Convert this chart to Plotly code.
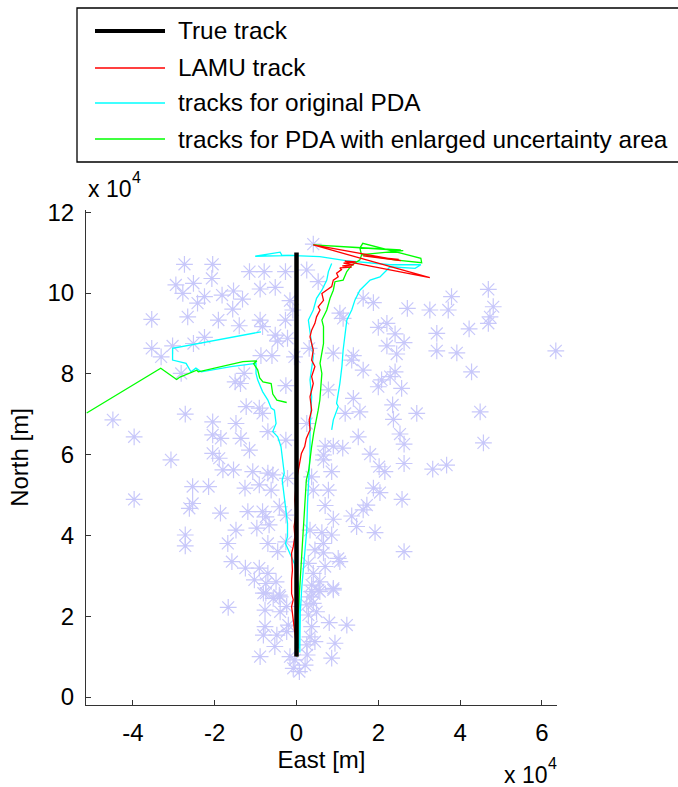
import plotly.graph_objects as go

# ---------------- data (units of 10^4 m) ----------------
clutter_east = [
    -2.74, -2.05, -2.07, -1.15, -0.79, -0.27, -2.95, -2.52, -2.78, -2.25,
    -2.42, -1.82, -1.54, -1.32, -1.56, -0.89, -0.52, -0.16, -0.09, -3.54,
    -2.66, -1.91, -1.40, -0.89, -0.83, -0.27, -2.25, -2.52, -3.54, -3.31,
    -3.03, -0.52, -0.46, -0.22, -0.87, -0.60, -0.05, -2.82, -1.28, -1.50,
    -1.37, -0.26, -1.23, -0.91,
    0.41, 0.25, 0.53, 1.63, 1.88, 3.79, 4.69, 4.81, 4.73, 4.69,
    2.71, 3.26, 3.71, 1.06, 1.14, 2.00, 2.21, 2.41, 3.43, 4.22,
    2.21, 2.63, 3.43, 3.92, 2.45, 1.39, 1.35, 0.90, 0.31, 1.63,
    2.41, 2.29, 2.08, 2.00, 2.57, 4.28, 0.78, 1.39, 2.35, 6.34,
    -4.49, -2.72, -2.05, -1.48, -0.83, -0.70, -3.97, -2.05, -1.85, -1.36,
    -0.26, -1.15, -2.05, -1.89, -3.07, -1.80, -1.54, -1.07, -0.70, -0.58,
    -0.22, -2.54, -2.15, -1.26, -0.91, -0.62, -3.97, -2.54, -2.62, -1.86,
    -1.19, -0.83, -0.75, -0.42, -0.26, -0.97, -0.67, -1.48, -2.72, -2.72,
    -1.68, -0.70, -0.46, -0.26, -1.58, -1.25, -0.91, -0.70, -1.03, -0.75,
    -0.50, -0.75, -0.42,
    1.19, 1.55, 2.37, 2.94, 4.49, 0.25, 1.51, 2.53, 2.63, 4.57,
    0.70, 0.90, 1.13, 0.66, 1.80, 0.66, 2.63, 2.02, 2.16, 3.33,
    3.67, 0.86, 0.37, 0.41, 0.78, 1.88, 2.04, 2.58, 1.72, 1.63,
    0.70, 1.35, 0.90, 1.47, 1.92, 0.33, 0.62, 0.86, 0.66, 0.45,
    0.66, 1.02, 1.06, 2.63, 0.29, 0.70, 0.41, 0.57, 0.37, 0.90,
    0.37, 0.53,
    -1.67, -0.81, -0.57, -0.40, -0.77, -0.40, -0.24, 0.33, 0.57, 0.90,
    0.25, 0.41, 0.49, 0.29, 0.80, 1.23, -0.77, -0.20, -0.81, -0.48,
    -0.24, 0.37, 0.33, 0.45, 0.25, 0.94, -0.53, -0.89, -0.16, -0.04,
    0.26, 0.86, 0.21, -0.08, 0.07,
    -5.15,
]
clutter_north = [
    10.71, 10.71, 10.36, 10.53, 10.53, 10.53, 10.20, 10.24, 9.99, 9.91,
    9.75, 9.95, 10.05, 9.85, 9.60, 10.10, 10.14, 9.81, 9.58, 9.35,
    9.41, 9.33, 9.19, 9.33, 9.17, 9.33, 8.90, 8.75, 8.63, 8.42,
    8.69, 8.96, 8.81, 8.88, 8.45, 8.45, 8.42, 8.01, 8.01, 7.80,
    7.76, 7.71, 7.19, 7.15,
    11.21, 10.57, 10.28, 9.87, 9.76, 9.91, 10.09, 9.66, 9.41, 9.25,
    9.62, 9.58, 9.58, 9.50, 9.37, 9.15, 9.25, 8.99, 9.00, 9.11,
    8.69, 8.77, 8.57, 8.52, 8.49, 8.45, 8.34, 8.51, 8.63, 8.09,
    8.05, 7.93, 7.85, 7.68, 7.64, 8.05, 7.60, 7.39, 7.23, 8.57,
    6.86, 7.00, 6.81, 6.77, 7.02, 6.57, 6.44, 6.49, 6.40, 6.40,
    6.36, 6.11, 6.03, 5.91, 5.87, 5.62, 5.62, 5.58, 5.54, 5.50,
    5.41, 5.21, 5.21, 5.17, 5.25, 5.12, 4.89, 4.79, 4.67, 4.55,
    4.59, 4.59, 4.46, 4.71, 4.50, 4.18, 4.26, 4.13, 4.01, 3.74,
    3.80, 3.80, 3.60, 3.84, 3.35, 3.19, 3.19, 3.06, 2.90, 2.81,
    2.85, 2.57, 2.52,
    7.02, 7.06, 6.87, 7.02, 7.06, 6.77, 6.44, 6.51, 6.26, 6.29,
    6.21, 6.21, 6.16, 5.99, 6.01, 5.87, 5.78, 5.70, 5.58, 5.64,
    5.74, 5.58, 5.45, 5.12, 5.12, 5.17, 5.06, 4.89, 4.75, 4.63,
    4.74, 4.48, 4.40, 4.22, 4.07, 4.13, 4.07, 4.01, 3.80, 3.64,
    3.57, 3.43, 3.35, 3.60, 3.31, 3.23, 3.06, 2.85, 2.77, 2.69,
    2.61, 2.65,
    2.22, 2.57, 2.44, 2.48, 2.15, 2.11, 2.24, 2.48, 2.61, 2.65,
    2.28, 2.32, 2.11, 2.03, 1.84, 1.78, 1.74, 1.78, 1.53, 1.53,
    1.62, 1.74, 1.49, 1.37, 1.29, 1.33, 1.25, 1.00, 1.00, 0.92,
    1.04, 0.96, 0.79, 0.71, 0.63,
    7.03,
]

true_east = [0.0, 0.0]
true_north = [1.0, 11.0]

lamu_east = [0.00, -0.01, -0.04, -0.08, -0.12, -0.08, -0.12, -0.12, -0.10, -0.12,
             -0.08, -0.04, -0.06, -0.01, -0.04, 0.00, 0.04, 0.08, 0.12, 0.20,
             0.24, 0.33, 0.31, 0.37, 0.33, 0.41, 0.37, 0.45, 0.37, 0.41,
             0.33, 0.37, 0.45, 0.49, 0.575, 0.53, 0.66, 0.62, 0.74, 0.86,
             0.90, 1.02, 0.98, 1.10, 1.06, 1.35, 1.12, 1.40, 1.15, 1.45,
             1.18, 3.26, 0.41, 2.55, 1.63, 2.50]
lamu_north = [1.00, 1.33, 1.58, 1.91, 2.24, 2.41, 2.56, 2.90, 3.14, 3.56,
              3.72, 3.97, 4.22, 4.55, 4.88, 5.37, 5.62, 5.78, 6.03, 6.20,
              6.40, 6.61, 6.86, 7.10, 7.43, 7.76, 7.93, 8.18, 8.34, 8.59,
              8.92, 9.08, 9.25, 9.41, 9.58, 9.66, 9.82, 9.99, 10.07, 10.16,
              10.32, 10.40, 10.49, 10.58, 10.62, 10.64, 10.67, 10.70, 10.74, 10.77,
              10.79, 10.38, 11.19, 10.80, 10.92, 10.83]

# tracks for original PDA (cyan)
pda1_east = [0.06, 0.08, 0.06, -0.05, -0.27, -0.22, -0.22, -0.26, -0.30, -0.35,
             -0.30, -0.34, -0.38, -0.46, -0.58, -0.50, -0.54, -0.62, -0.70, -0.83,
             -0.95, -0.99, -0.99, -1.60, -2.33, -2.46, -2.58, -2.70, -3.03, -3.03,
             -0.87]
pda1_north = [1.20, 2.00, 2.70, 3.30, 3.80, 3.97, 4.30, 4.63, 4.96, 5.37,
              5.54, 5.95, 6.20, 6.44, 6.57, 6.77, 7.10, 7.15, 7.35, 7.56,
              7.85, 8.01, 8.26, 8.18, 8.05, 8.14, 8.05, 8.26, 8.34, 8.63,
              9.04]
pda2_east = [0.08, 0.09, 0.13, 0.18, 0.25, 0.27, 0.29, 0.33, 0.33, 0.37,
             0.33, 0.41, 0.37, 0.29, 0.41, 0.49, 0.62, 0.74, 0.78, 0.86]
pda2_north = [1.10, 2.07, 2.73, 3.40, 4.13, 4.80, 5.37, 6.03, 6.61, 7.43,
              7.85, 8.42, 8.75, 9.33, 9.58, 9.87, 10.07, 10.32, 10.53, 10.73]
pda3_east = [0.86, 0.90, 1.02, 0.98, 1.06, 1.11, 1.14, 1.19, 1.23, 1.35,
             1.43, 1.55, 1.80, 2.04, 2.29, 2.90, 3.04, 2.29, 1.20, 0.57,
             -0.36, -0.40, -1.01, 0.00]
pda3_north = [6.61, 6.86, 7.19, 7.27, 7.76, 8.18, 8.59, 9.08, 9.33, 9.58,
              9.83, 10.07, 10.32, 10.40, 10.65, 10.61, 10.70, 10.70, 10.80, 10.90,
              10.94, 11.01, 10.91, 10.93]

# tracks for PDA with enlarged uncertainty area (green)
epda1_east = [-5.13, -3.32, -2.93, -2.85, -2.44, -2.40, -1.31, -0.97, -1.05, -0.95,
              -0.90, -0.82, -0.62, -0.58, -0.48, -0.24]
epda1_north = [7.03, 8.14, 7.86, 7.92, 8.09, 8.05, 8.30, 8.32, 8.25, 8.10,
               7.90, 7.80, 7.76, 7.50, 7.35, 7.29]
epda2_east = [0.02, 0.04, 0.07, 0.09, 0.12, 0.16, 0.18, 0.20, 0.22, 0.24,
              0.30, 0.33, 0.37, 0.42, 0.49, 0.53, 0.57, 0.59, 0.62, 0.575,
              0.62, 0.66, 0.66, 0.62, 0.74, 0.82, 0.90, 0.94, 1.14, 1.23,
              1.35, 1.55, 1.59, 1.55, 1.62, 3.04, 3.06, 2.40, 1.60, 2.61,
              0.41, 2.55]
epda2_north = [1.00, 2.07, 2.56, 2.90, 3.39, 3.80, 4.22, 4.55, 4.96, 5.37,
               5.62, 5.95, 6.20, 6.53, 6.86, 7.10, 7.35, 7.68, 8.01, 8.26,
               8.51, 8.75, 9.17, 9.33, 9.58, 9.87, 10.07, 10.28, 10.32, 10.53,
               10.69, 10.82, 10.94, 11.11, 11.23, 10.86, 10.75, 10.82, 10.95, 11.05,
               11.19, 11.07]

legend_labels = ["True track", "LAMU track", "tracks for original PDA",
                 "tracks for PDA with enlarged uncertainty area"]
x_ticks = [-4, -2, 0, 2, 4, 6]
y_ticks = [0, 2, 4, 6, 8, 10, 12]

# ---------------- figure ----------------
W, H = 678, 787
L, R, T, B = 86, 557, 210, 705   # plot area in pixels

RED, CYAN, GREEN, CLUTTER = "#ff0000", "#00ffff", "#00ff00", "#c8c8fa"

fig = go.Figure()
fig.add_trace(go.Scatter(
    x=clutter_east, y=clutter_north, mode="markers", cliponaxis=False,
    marker=dict(symbol="asterisk-open", size=14, color=CLUTTER,
                line=dict(color=CLUTTER, width=1.2)),
    showlegend=False, hoverinfo="skip"))

for ex, ny in [(pda1_east, pda1_north), (pda2_east, pda2_north), (pda3_east, pda3_north)]:
    fig.add_trace(go.Scatter(x=ex, y=ny, mode="lines", line=dict(color=CYAN, width=1.3),
                             showlegend=False, hoverinfo="skip"))
for ex, ny in [(epda1_east, epda1_north), (epda2_east, epda2_north)]:
    fig.add_trace(go.Scatter(x=ex, y=ny, mode="lines", line=dict(color=GREEN, width=1.3),
                             showlegend=False, hoverinfo="skip"))
fig.add_trace(go.Scatter(x=lamu_east, y=lamu_north, mode="lines", line=dict(color=RED, width=1.3),
                         showlegend=False, hoverinfo="skip"))
fig.add_trace(go.Scatter(x=true_east, y=true_north, mode="lines", line=dict(color="black", width=4.5),
                         showlegend=False, hoverinfo="skip"))


def fx(px):
    return (px - L) / (R - L)


def fy(py):
    return (B - py) / (B - T)


FONT = "Liberation Sans, Arial, Helvetica, sans-serif"
AX = "#333333"
FS = 24

fig.update_layout(
    width=W, height=H,
    margin=dict(l=L, r=W - R, t=T, b=H - B, pad=0),
    plot_bgcolor="white", paper_bgcolor="white",
    showlegend=False,
    font=dict(family=FONT, size=FS, color="black"),
)
fig.update_xaxes(
    range=[-5.147, 6.369], tickvals=x_ticks, ticktext=[str(v) for v in x_ticks],
    ticks="inside", ticklen=5, tickcolor=AX, showline=True, linecolor=AX, linewidth=1,
    showgrid=False, zeroline=False, ticklabelstandoff=6,
    title=dict(text="East [m]", standoff=6, font=dict(size=FS)),
)
fig.update_yaxes(
    range=[-0.198, 12.055], tickvals=y_ticks, ticktext=[str(v) for v in y_ticks],
    ticks="inside", ticklen=5, tickcolor=AX, showline=True, linecolor=AX, linewidth=1,
    showgrid=False, zeroline=False, ticklabelstandoff=6,
    title=dict(text="North [m]", standoff=12, font=dict(size=FS)),
)

# exponent labels ("x 10" with a raised "4")
for bx, by in [(86, 189), (502, 775)]:
    fig.add_annotation(xref="paper", yref="paper", x=fx(bx), y=fy(by), xanchor="left", yanchor="middle",
                       text="x 10", showarrow=False, font=dict(size=23))
    fig.add_annotation(xref="paper", yref="paper", x=fx(bx + 44), y=fy(by - 12), xanchor="left",
                       yanchor="middle", text="4", showarrow=False, font=dict(size=16))

# legend (box with line samples and labels)
fig.add_shape(type="rect", xref="paper", yref="paper", x0=fx(77), x1=fx(700), y0=fy(162), y1=fy(8),
              line=dict(color="black", width=1.3), fillcolor="white", layer="above")
rows = [31, 68, 103, 139]
styles = [("black", 4), (RED, 1.3), (CYAN, 1.3), (GREEN, 1.3)]
for ry, (col, wd), lab in zip(rows, styles, legend_labels):
    fig.add_shape(type="line", xref="paper", yref="paper", x0=fx(95), x1=fx(165), y0=fy(ry), y1=fy(ry),
                  line=dict(color=col, width=wd), layer="above")
    fig.add_annotation(xref="paper", yref="paper", x=fx(176), y=fy(ry), xanchor="left", yanchor="middle",
                       text=lab, showarrow=False, font=dict(size=24.4))

fig.write_html("out.html")
